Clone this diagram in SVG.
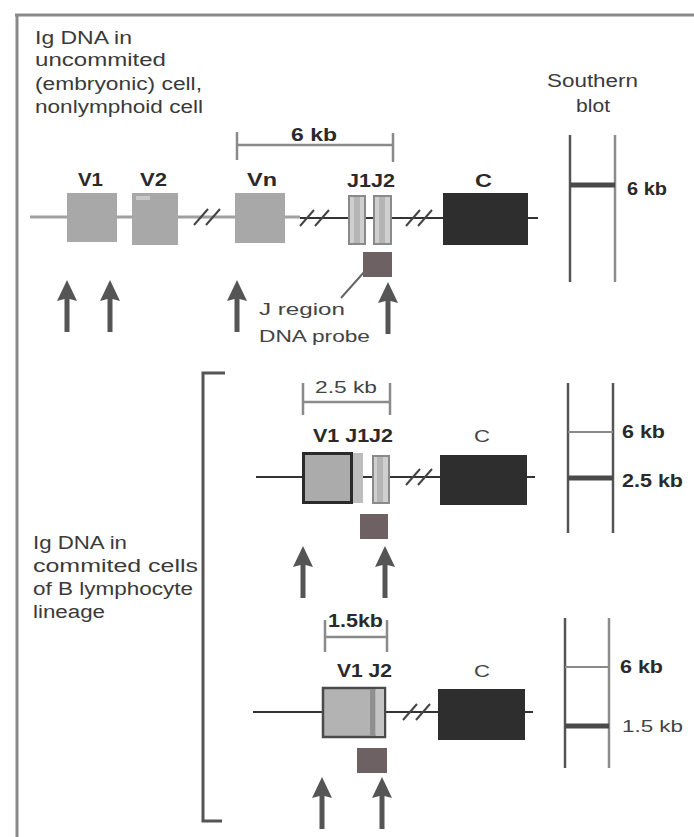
<svg xmlns="http://www.w3.org/2000/svg" width="694" height="837" viewBox="0 0 694 837">
<style>
  .t { font-family: "Liberation Sans", Arial, sans-serif; fill: #3a3a3a; }
  .lbl { font-family: "Liberation Sans", Arial, sans-serif; font-weight: bold; fill: #2a2a2a; font-size: 18px; }
  .reg { font-family: "Liberation Sans", Arial, sans-serif; fill: #444; font-size: 17px; }
  .dim { stroke: #8a8a8a; stroke-width: 2.5; fill: none; }
  .gene { stroke: #333; stroke-width: 2; fill: none; }
  .geneL { stroke: #a0a0a0; stroke-width: 3; fill: none; }
  .brk { stroke: #444; stroke-width: 2; fill: none; }
  .vbox { fill: #a8a8a8; }
  .jbox { fill: #cfcfcf; stroke: #8a8a8a; stroke-width: 2; }
  .cbox { fill: #2e2e2e; }
  .probe { fill: #6d6163; }
  .arrow { fill: #555; }
  .blotL { stroke: #555; stroke-width: 2.5; }
  .blotR { stroke: #8c8c8c; stroke-width: 2.5; }
  .band { stroke: #4a4a4a; stroke-width: 5; }
  .thin { stroke: #8a8a8a; stroke-width: 2; }
</style>
<defs>
  <path id="arrowUp" d="M0,0 L10,21 L2.5,19 L2.5,52 L-2.5,52 L-2.5,19 L-10,21 Z"/>
</defs>
<rect width="694" height="837" fill="#ffffff"/>

<!-- frame -->
<g id="frame">
  <line x1="15" y1="15" x2="694" y2="15" stroke="#8a8a8a" stroke-width="3"/>
  <line x1="17" y1="14" x2="17" y2="837" stroke="#8a8a8a" stroke-width="3"/>
</g>

<!-- titles -->
<g id="title-uncommitted">
  <text class="t" font-size="18" x="35" y="44" textLength="97" lengthAdjust="spacingAndGlyphs">Ig DNA in</text>
  <text class="t" font-size="18" x="35" y="66" textLength="131" lengthAdjust="spacingAndGlyphs">uncommited</text>
  <text class="t" font-size="18" x="35" y="90" textLength="167" lengthAdjust="spacingAndGlyphs">(embryonic) cell,</text>
  <text class="t" font-size="18" x="35" y="113" textLength="168" lengthAdjust="spacingAndGlyphs">nonlymphoid cell</text>
</g>
<g id="title-committed">
  <text class="t" font-size="18" x="33" y="549" textLength="94" lengthAdjust="spacingAndGlyphs">Ig DNA in</text>
  <text class="t" font-size="18" x="33" y="572" textLength="165" lengthAdjust="spacingAndGlyphs">commited cells</text>
  <text class="t" font-size="18" x="33" y="595" textLength="160" lengthAdjust="spacingAndGlyphs">of B lymphocyte</text>
  <text class="t" font-size="18" x="33" y="618" textLength="72" lengthAdjust="spacingAndGlyphs">lineage</text>
</g>
<g id="title-southern">
  <text class="t" font-size="18" x="547" y="87" textLength="91" lengthAdjust="spacingAndGlyphs">Southern</text>
  <text class="t" font-size="18" x="576" y="112" textLength="34" lengthAdjust="spacingAndGlyphs">blot</text>
</g>

<!-- bracket -->
<g id="bracket">
  <path d="M225,373 L203,373 L203,821 L222,821" fill="none" stroke="#555" stroke-width="3"/>
</g>

<!-- connectors: gene lines, breaks, arrows, leader -->
<g id="connectors">
  <!-- top row gene line -->
  <line class="geneL" x1="30" y1="217" x2="300" y2="217"/>
  <line class="gene" x1="300" y1="218" x2="538" y2="218"/>
  <!-- middle row -->
  <line class="gene" x1="256" y1="477" x2="535" y2="477"/>
  <!-- bottom row -->
  <line class="gene" x1="253" y1="712" x2="533" y2="712"/>
  <!-- breaks -->
  <g class="brk">
    <path d="M194,225 L208,209 M206,225 L220,209"/>
    <path d="M300,226 L314,210 M315,226 L329,210"/>
    <path d="M406,226 L420,210 M418,226 L432,210"/>
    <path d="M406,485 L420,469 M418,485 L432,469"/>
    <path d="M403,720 L417,704 M416,720 L430,704"/>
  </g>
  <!-- leader from probe to label -->
  <line x1="365" y1="271" x2="341" y2="298" stroke="#666" stroke-width="2"/>
  <!-- arrows -->
  <use href="#arrowUp" class="arrow" x="67" y="280"/>
  <use href="#arrowUp" class="arrow" x="110" y="280"/>
  <use href="#arrowUp" class="arrow" x="237" y="280"/>
  <use href="#arrowUp" class="arrow" x="388" y="282"/>
  <use href="#arrowUp" class="arrow" x="303" y="546"/>
  <use href="#arrowUp" class="arrow" x="385" y="546"/>
  <use href="#arrowUp" class="arrow" x="322" y="777"/>
  <use href="#arrowUp" class="arrow" x="382" y="777"/>
</g>

<!-- ===== Top row ===== -->
<g id="dim-6kb">
  <path class="dim" d="M237,132 L237,160 M237,145 L393,145 M393,133 L393,162"/>
  <rect x="285" y="127" width="55" height="16" fill="#fff"/>
  <text class="lbl" font-size="15" x="291" y="141" textLength="46" lengthAdjust="spacingAndGlyphs" fill="#555">6 kb</text>
</g>
<g id="V1-top">
  <text class="lbl" x="78" y="186" textLength="25" lengthAdjust="spacingAndGlyphs">V1</text>
  <rect class="vbox" x="67" y="193" width="50" height="49"/>
</g>
<g id="V2-top">
  <text class="lbl" x="140" y="186" textLength="27" lengthAdjust="spacingAndGlyphs">V2</text>
  <rect class="vbox" x="132" y="193" width="46" height="52" fill="#b0b0b0"/>
  <rect x="136" y="196" width="14" height="4" fill="#c8c8c8"/>
</g>
<g id="Vn-top">
  <text class="lbl" x="247" y="186" textLength="30" lengthAdjust="spacingAndGlyphs">Vn</text>
  <rect class="vbox" x="235" y="193" width="50" height="50"/>
</g>
<g id="J-top">
  <text class="lbl" x="347" y="187" textLength="48" lengthAdjust="spacingAndGlyphs">J1J2</text>
  <rect class="jbox" x="349" y="196" width="16" height="48"/>
  <rect x="354" y="197" width="6" height="46" fill="#b5b5b5"/>
  <rect class="jbox" x="374" y="196" width="17" height="48"/>
  <rect x="379" y="197" width="6" height="46" fill="#b5b5b5"/>
</g>
<g id="C-top">
  <text class="lbl" x="475" y="187" textLength="17" lengthAdjust="spacingAndGlyphs">C</text>
  <rect class="cbox" x="443" y="193" width="85" height="52"/>
</g>
<g id="probe-top">
  <rect class="probe" x="363" y="252" width="29" height="25"/>
</g>
<g id="probe-label">
  <text class="reg" x="259" y="315" textLength="86" lengthAdjust="spacingAndGlyphs">J region</text>
  <text class="reg" x="259" y="342" textLength="111" lengthAdjust="spacingAndGlyphs">DNA probe</text>
</g>
<g id="blot-top">
  <line class="blotL" x1="570" y1="135" x2="570" y2="282"/>
  <line class="blotR" x1="615" y1="135" x2="615" y2="282"/>
  <line class="band" x1="570" y1="185" x2="615" y2="185"/>
  <text class="lbl" font-size="15" x="627" y="195" textLength="40" lengthAdjust="spacingAndGlyphs" fill="#444">6 kb</text>
</g>

<!-- ===== Middle row ===== -->
<g id="dim-2_5kb">
  <path class="dim" d="M303,383 L303,415 M303,402 L390,402 M390,383 L390,415"/>
  <text class="reg" font-size="16" x="315" y="393" textLength="62" lengthAdjust="spacingAndGlyphs">2.5 kb</text>
</g>
<g id="VJ-mid">
  <text class="lbl" x="313" y="442" textLength="80" lengthAdjust="spacingAndGlyphs">V1 J1J2</text>
  <rect x="352" y="453" width="11" height="50" fill="#bdbdbd"/>
  <rect x="303.5" y="453.5" width="48" height="49" fill="#ababab" stroke="#2a2a2a" stroke-width="3"/>
  <rect class="jbox" x="373" y="456" width="16" height="47"/>
  <rect x="377" y="457" width="6" height="45" fill="#b5b5b5"/>
</g>
<g id="C-mid">
  <text class="reg" font-size="18" x="474" y="442" textLength="16" lengthAdjust="spacingAndGlyphs" fill="#555">C</text>
  <rect class="cbox" x="440" y="455" width="87" height="50"/>
</g>
<g id="probe-mid">
  <rect class="probe" x="360" y="514" width="28" height="25"/>
</g>
<g id="blot-mid">
  <line class="blotL" x1="568" y1="383" x2="568" y2="533"/>
  <line class="blotL" x1="613" y1="383" x2="613" y2="533"/>
  <line class="thin" x1="568" y1="432" x2="613" y2="432"/>
  <line class="band" x1="568" y1="478" x2="613" y2="478"/>
  <text class="lbl" font-size="16" x="622" y="438" textLength="43" lengthAdjust="spacingAndGlyphs" fill="#3a3a3a">6 kb</text>
  <text class="lbl" font-size="16" x="622" y="487" textLength="61" lengthAdjust="spacingAndGlyphs" fill="#3a3a3a">2.5 kb</text>
</g>

<!-- ===== Bottom row ===== -->
<g id="dim-1_5kb">
  <path class="dim" d="M325,620 L325,652 M325,637 L387,637 M387,620 L387,652"/>
  <text class="lbl" font-size="15" x="328" y="627" textLength="55" lengthAdjust="spacingAndGlyphs" fill="#555">1.5kb</text>
</g>
<g id="VJ-bot">
  <text class="lbl" x="337" y="677" textLength="55" lengthAdjust="spacingAndGlyphs">V1 J2</text>
  <rect x="323" y="688" width="62" height="49" fill="#b3b3b3" stroke="#4a4a4a" stroke-width="2.5"/>
  <rect x="370" y="689" width="5" height="47" fill="#8f8f8f"/>
  <rect x="376" y="689" width="8" height="47" fill="#c4c4c4"/>
</g>
<g id="C-bot">
  <text class="reg" font-size="18" x="474" y="677" textLength="16" lengthAdjust="spacingAndGlyphs" fill="#555">C</text>
  <rect class="cbox" x="438" y="689" width="87" height="51"/>
</g>
<g id="probe-bot">
  <rect class="probe" x="357" y="748" width="30" height="25"/>
</g>
<g id="blot-bot">
  <line class="blotL" x1="565" y1="618" x2="565" y2="768"/>
  <line class="blotR" x1="609" y1="618" x2="609" y2="768"/>
  <line class="thin" x1="565" y1="667" x2="609" y2="667"/>
  <line class="band" x1="565" y1="726" x2="609" y2="726"/>
  <text class="lbl" font-size="16" x="620" y="673" textLength="43" lengthAdjust="spacingAndGlyphs" fill="#3a3a3a">6 kb</text>
  <text class="reg" font-size="16" x="622" y="732" textLength="61" lengthAdjust="spacingAndGlyphs" fill="#555">1.5 kb</text>
</g>
</svg>
